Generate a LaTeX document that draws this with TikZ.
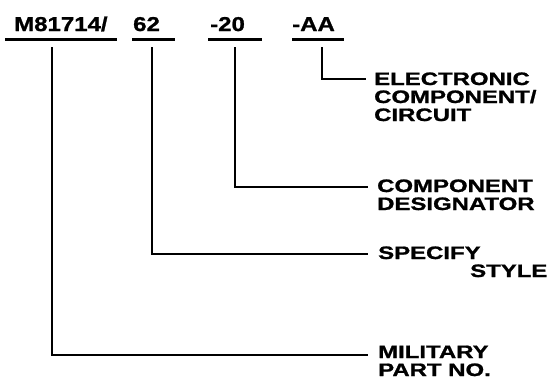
\documentclass[tikz,border=0pt]{standalone}
\usepackage{fontspec}
\newfontfamily\labfont{Liberation Sans}[FakeStretch=1.33,BoldFeatures={FakeBold=1.2}]
\newfontfamily\hdfont{Liberation Sans}[FakeStretch=1.2,BoldFeatures={FakeBold=1.2}]
\tikzset{
  hd/.style={font=\hdfont\bfseries\fontsize{20}{22}\selectfont, inner sep=0pt, anchor=base west},
  lab/.style={font=\labfont\bfseries\fontsize{18}{18}\selectfont, inner sep=0pt, anchor=base west, align=left},
  uline/.style={line width=3pt},
  lead/.style={line width=2.5pt, line join=miter},
}
\begin{document}
\begin{tikzpicture}[x=1pt,y=-1pt]
\useasboundingbox[fill=white] (0,0) rectangle (559,386);
% header codes
\node[hd] (pn) at (14,31) {M81714/};
\node[hd] (st) at (133,31) {62};
\node[hd] (cd) at (210,31) {-20};
\node[hd] (ec) at (292,31) {-AA};
% underline end points
\coordinate (pnA) at (5,39);   \coordinate (pnB) at (117,39);
\coordinate (stA) at (132,39); \coordinate (stB) at (175,39);
\coordinate (cdA) at (208,39); \coordinate (cdB) at (262,39);
\coordinate (ecA) at (292,39); \coordinate (ecB) at (344,39);
\draw[uline] (pnA) -- (pnB);
\draw[uline] (stA) -- (stB);
\draw[uline] (cdA) -- (cdB);
\draw[uline] (ecA) -- (ecB);
% leader starts
\coordinate (pnV) at (52,47);
\coordinate (stV) at (152,47);
\coordinate (cdV) at (235,47);
\coordinate (ecV) at (322,47);
% leader ends
\coordinate (ecE) at (366,79);
\coordinate (cdE) at (368,187);
\coordinate (stE) at (368,254);
\coordinate (pnE) at (368,355);
% labels (anchor = baseline of last line)
\node[lab] (ecL) at (374,121) {ELECTRONIC\\COMPONENT/\\CIRCUIT};
\node[lab] (cdL) at (377,210) {COMPONENT\\DESIGNATOR};
\node[lab] (stL) at (378,277) {SPECIFY\\\hspace*{92pt}STYLE};
\node[lab] (pnL) at (378,376) {MILITARY\\PART NO.};
% leaders
\draw[lead] (ecV) |- (ecE);
\draw[lead] (cdV) |- (cdE);
\draw[lead] (stV) |- (stE);
\draw[lead] (pnV) |- (pnE);
\end{tikzpicture}
\end{document}
